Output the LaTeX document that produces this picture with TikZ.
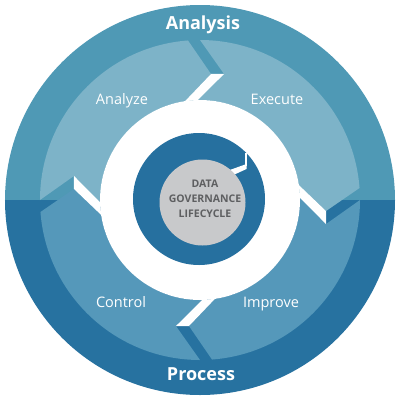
\documentclass[tikz,border=0pt]{standalone}
\usepackage{fontspec}
\setmainfont{Open Sans}
\definecolor{ringtop}{HTML}{4F99B5}
\definecolor{ringbot}{HTML}{2772A0}
\definecolor{armtop}{HTML}{7DB3C8}
\definecolor{armbot}{HTML}{5598BA}
\definecolor{hubring}{HTML}{26709F}
\definecolor{hubfill}{HTML}{C8C9CB}
\definecolor{hubtext}{HTML}{5E5F61}
\begin{document}
\begin{tikzpicture}[x=1pt, y=1pt,
        title/.style={text=white, font=\fontsize{18}{20}\selectfont\bfseries, anchor=base},
        phase/.style={text=white, font=\fontsize{14.5}{16}\selectfont, anchor=base},
        hub/.style={text=hubtext, font=\fontsize{10.5}{15}\selectfont\bfseries, align=center}]
        \useasboundingbox (-200,-200) rectangle (201,200);
        % outer ring, two halves
        \fill[ringtop] (195,0) arc[start angle=0, end angle=180, radius=195] -- cycle;
        \fill[ringbot] (-195,0) arc[start angle=180, end angle=360, radius=195] -- cycle;
        % four arrows, notch at \a, head past \a-90
        \foreach \a/\c in {180/armtop, 90/armtop, 0/armbot, -90/armbot}
            \fill[\c] (\a:160) -- ({\a-10.8}:128.3) -- ({\a+1.2}:100)
                arc[start angle={\a+1.2}, end angle={\a-81.4}, radius=100]
                -- ({\a-95}:126.5) -- ({\a-85.7}:160)
                arc[start angle={\a-85.7}, end angle=\a, radius=160] -- cycle;
        \foreach \b in {90, 0, -90, 180}
            \fill[white] ({\b-5}:126.5) -- ({\b+8.6}:100) -- ({\b+1.2}:100) -- ({\b-10.8}:128.3) -- cycle;
        \fill[white] (0,0) circle[radius=100];
        % hub
        \fill[hubring] (-1,1) circle[radius=66];
        \fill[white] (44.5,47) rectangle (46.5,34);
        \fill[white] (46.5,36) -- (46.5,31) -- (29,23) -- (27,29) -- cycle;
        \fill[hubfill] (2.5,-2.5) circle[radius=43];
        \node[hub] (lifecycle) at (5,1) {DATA\\GOVERNANCE\\LIFECYCLE};
        \node[title] (analysis) at (3,171) {Analysis};
        \node[title] (process) at (1,-180) {Process};
        \node[phase] (analyze) at (-78,96) {Analyze};
        \node[phase] (execute) at (77,96) {Execute};
        \node[phase] (control) at (-79,-107) {Control};
        \node[phase] (improve) at (71,-107) {Improve};
    \end{tikzpicture}
\end{document}
